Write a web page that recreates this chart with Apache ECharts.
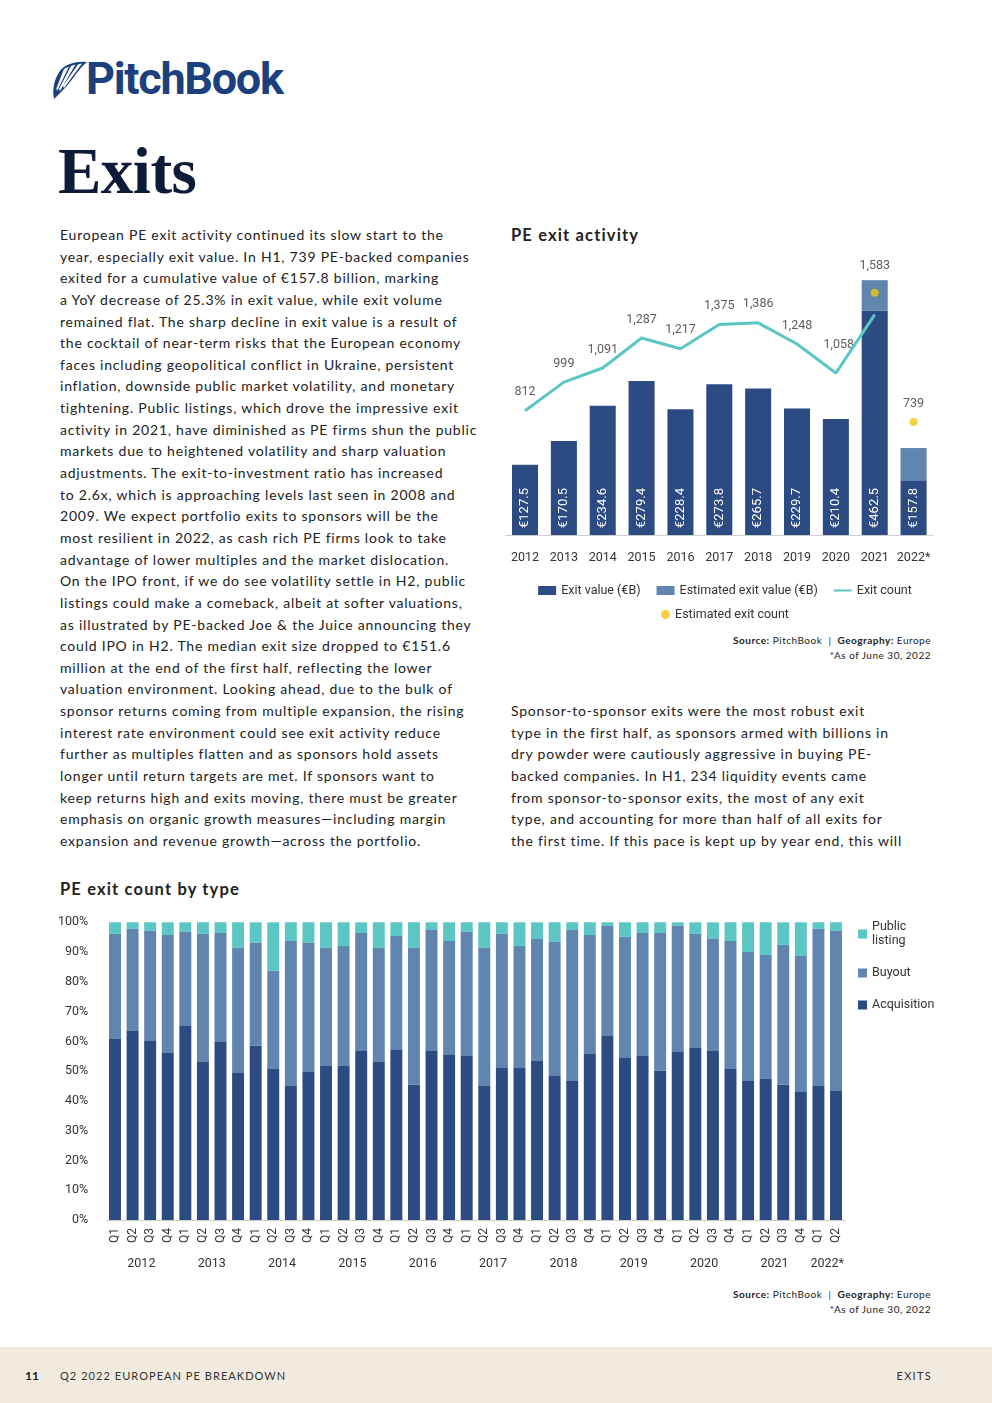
<!DOCTYPE html>
<html>
<head>
<meta charset="utf-8">
<script src="https://cdn.jsdelivr.net/npm/echarts@6/dist/echarts.min.js"></script>
<style>
  html, body { margin: 0; padding: 0; background: #fff; }
  body { width: 992px; height: 1403px; position: relative; overflow: hidden; font-family: Lato, "Open Sans", sans-serif; color: #222; }
  .abs { position: absolute; }
  .para { font-size: 14px; line-height: 21.64px; letter-spacing: 0.78px; white-space: nowrap; color: #222; }
  .ctitle { font-weight: 700; font-size: 16.5px; letter-spacing: 1.15px; color: #222; }
  .src { font-size: 10px; letter-spacing: 0.5px; text-align: right; line-height: 15px; color: #222; white-space: nowrap; }
  .src b { font-weight: 700; }
</style>
</head>
<body>
<!-- logo -->
<svg class="abs" style="left:50px;top:60px" width="40" height="42" viewBox="0 0 40 42">
  <path d="M4 39 C2 30 4 19 10 11 C16 4 26 1 37 2 C33 5 30 9 26 14 C21 21 15 29 4 39 Z" fill="#1c3f7d"/>
  <path d="M9 13 C12 8 15 6 18 5 L8 24 Z" fill="#1c3f7d"/>
  <path d="M14 9 L19 6.5 L7 31 L6.5 28 Z" fill="#ffffff"/>
  <path d="M21 6 L25.5 4.5 L10 31 L9 29 Z" fill="#ffffff"/>
  <path d="M28 4.5 L32 3.5 L14 28 L13 26 Z" fill="#ffffff"/>
</svg>
<div class="abs" style="left:86px;top:52px;font-family:Roboto,sans-serif;font-weight:700;font-size:45px;letter-spacing:-1.3px;color:#1c3f7d;">PitchBook</div>
<div class="abs" style="left:58px;top:134px;font-family:'Liberation Serif','DejaVu Serif',serif;font-weight:700;font-size:65px;color:#0e1b38;letter-spacing:-0.5px;">Exits</div>

<div class="abs para" style="left:60px;top:224px;">European PE exit activity continued its slow start to the<br>year, especially exit value. In H1, 739 PE-backed companies<br>exited for a cumulative value of €157.8 billion, marking<br>a YoY decrease of 25.3% in exit value, while exit volume<br>remained flat. The sharp decline in exit value is a result of<br>the cocktail of near-term risks that the European economy<br>faces including geopolitical conflict in Ukraine, persistent<br>inflation, downside public market volatility, and monetary<br>tightening. Public listings, which drove the impressive exit<br>activity in 2021, have diminished as PE firms shun the public<br>markets due to heightened volatility and sharp valuation<br>adjustments. The exit-to-investment ratio has increased<br>to 2.6x, which is approaching levels last seen in 2008 and<br>2009. We expect portfolio exits to sponsors will be the<br>most resilient in 2022, as cash rich PE firms look to take<br>advantage of lower multiples and the market dislocation.<br>On the IPO front, if we do see volatility settle in H2, public<br>listings could make a comeback, albeit at softer valuations,<br>as illustrated by PE-backed Joe &amp; the Juice announcing they<br>could IPO in H2. The median exit size dropped to €151.6<br>million at the end of the first half, reflecting the lower<br>valuation environment. Looking ahead, due to the bulk of<br>sponsor returns coming from multiple expansion, the rising<br>interest rate environment could see exit activity reduce<br>further as multiples flatten and as sponsors hold assets<br>longer until return targets are met. If sponsors want to<br>keep returns high and exits moving, there must be greater<br>emphasis on organic growth measures—including margin<br>expansion and revenue growth—across the portfolio.</div>

<div class="abs para" style="left:511px;top:700px;">Sponsor-to-sponsor exits were the most robust exit<br>type in the first half, as sponsors armed with billions in<br>dry powder were cautiously aggressive in buying PE-<br>backed companies. In H1, 234 liquidity events came<br>from sponsor-to-sponsor exits, the most of any exit<br>type, and accounting for more than half of all exits for<br>the first time. If this pace is kept up by year end, this will</div>

<div class="abs ctitle" style="left:511px;top:225px;">PE exit activity</div>
<div class="abs ctitle" style="left:60px;top:879px;">PE exit count by type</div>

<div id="c1" class="abs" style="left:500px;top:250px;width:450px;height:380px;"></div>
<div id="c2" class="abs" style="left:40px;top:900px;width:910px;height:380px;"></div>

<div class="abs src" style="right:61px;top:633px;"><b>Source:</b> PitchBook &nbsp;|&nbsp; <b>Geography:</b> Europe<br>*As of June 30, 2022</div>
<div class="abs src" style="right:61px;top:1287px;"><b>Source:</b> PitchBook &nbsp;|&nbsp; <b>Geography:</b> Europe<br>*As of June 30, 2022</div>

<div class="abs" style="left:0;top:1347px;width:992px;height:56px;background:#f1eadf;"></div>
<div class="abs" style="left:25px;top:1368px;font-size:12px;font-weight:700;color:#222;">11</div>
<div class="abs" style="left:60px;top:1369px;font-size:11px;letter-spacing:1.05px;color:#333;">Q2 2022 EUROPEAN PE BREAKDOWN</div>
<div class="abs" style="right:60px;top:1369px;font-size:11px;letter-spacing:1.3px;color:#333;">EXITS</div>

<script>
// ---------- Data: PE exit activity ----------
const years = ['2012','2013','2014','2015','2016','2017','2018','2019','2020','2021','2022*'];
const exitValue = [127.5, 170.5, 234.6, 279.4, 228.4, 273.8, 265.7, 229.7, 210.4, 407.0, 98.0];
const estimatedExitValue = [null, null, null, null, null, null, null, null, null, 55.5, 59.8];
const exitCount = [812, 999, 1091, 1287, 1217, 1375, 1386, 1248, 1058, 1440, null];
const estimatedExitCount = [null, null, null, null, null, null, null, null, null, 1583, 739];
const exitCountLabelled = [true, true, true, true, true, true, true, true, true, false, false];

// ---------- Data: PE exit count by type (% share) ----------
const quarters = ['Q1','Q2','Q3','Q4','Q1','Q2','Q3','Q4','Q1','Q2','Q3','Q4','Q1','Q2','Q3','Q4',
  'Q1','Q2','Q3','Q4','Q1','Q2','Q3','Q4','Q1','Q2','Q3','Q4','Q1','Q2','Q3','Q4',
  'Q1','Q2','Q3','Q4','Q1','Q2','Q3','Q4','Q1','Q2'];
const yearLabels = ['2012','2013','2014','2015','2016','2017','2018','2019','2020','2021','2022*'];
const acquisition = [60.8,63.5,60.1,56.1,65.2,53.1,59.8,49.4,58.5,50.7,45.0,49.7,51.7,51.7,56.8,53.1,
  57.1,45.4,56.8,55.4,55.1,45.0,51.1,51.1,53.4,48.4,46.7,55.8,61.8,54.4,55.1,50.1,
  56.4,57.8,56.8,50.7,46.7,47.4,45.4,43.0,45.0,43.3];
const buyout = [35.3,34.3,37.0,39.6,31.6,43.0,36.6,42.0,34.6,33.0,48.7,43.4,39.7,40.3,39.6,38.3,
  38.3,46.0,40.6,38.3,41.7,46.4,45.0,40.9,41.0,45.0,50.7,39.9,37.0,40.7,41.3,46.3,
  42.4,38.3,37.6,43.0,43.3,41.6,47.0,45.7,52.8,53.8];
const publicListing = [3.9,2.2,2.9,4.3,3.2,3.9,3.6,8.6,6.9,16.3,6.3,6.9,8.6,8.0,3.6,8.6,
  4.6,8.6,2.6,6.3,3.2,8.6,3.9,8.0,5.6,6.6,2.6,4.3,1.2,4.9,3.6,3.6,
  1.2,3.9,5.6,6.3,10.0,11.0,7.6,11.3,2.2,2.9];

const C_DARK = '#2c4b83', C_LIGHT = '#6085ae', C_TEAL = '#5cc6c5', C_YELLOW = '#f2c40f';
const FONT = "Roboto, 'DejaVu Sans', sans-serif";
const fmt = v => Math.round(v).toLocaleString('en-US');
const LINE_ICON = 'path://M0,0 L0.001,0 Z M0,3.4 L20,3.4 L20,5.8 L0,5.8 Z M0,9.2 L0.001,9.2 Z';

// ---------- Chart 1 ----------
const c1 = echarts.init(document.getElementById('c1'), null, {renderer: 'canvas'});
const totals = exitValue.map((v, i) => v + (estimatedExitValue[i] || 0));
c1.setOption({
  animation: false,
  textStyle: {fontFamily: FONT},
  grid: {left: 5.6, right: 17, top: 9.5, height: 275.5},
  legend: [{
    top: 334, left: 'center', padding: 0,
    itemWidth: 18, itemHeight: 9, itemGap: 16,
    textStyle: {fontFamily: FONT, fontSize: 12.5, color: '#333'},
    data: [
      {name: 'Exit value (€B)', icon: 'rect'},
      {name: 'Estimated exit value (€B)', icon: 'rect'},
      {name: 'Exit count', icon: LINE_ICON}
    ]
  }, {
    top: 358, left: 'center', padding: 0,
    itemWidth: 9, itemHeight: 9,
    textStyle: {fontFamily: FONT, fontSize: 12.5, color: '#333'},
    data: [{name: 'Estimated exit count', icon: 'circle'}]
  }],
  xAxis: {
    type: 'category', data: years,
    axisLine: {lineStyle: {color: '#cfcfcf'}},
    axisTick: {show: false},
    axisLabel: {interval: 0, margin: 16, fontSize: 12.5, color: '#333', fontFamily: FONT}
  },
  yAxis: [
    {type: 'value', min: 0, max: 500, show: false, splitLine: {show: false}},
    {type: 'value', min: 0, max: 1800, show: false, splitLine: {show: false}}
  ],
  series: [
    {
      name: 'Exit value (€B)', type: 'bar', stack: 'v', barWidth: '67%',
      itemStyle: {color: C_DARK},
      data: exitValue,
      label: {
        show: true, position: 'insideBottom', rotate: 90, align: 'left', verticalAlign: 'middle',
        distance: 7, color: '#fff', fontSize: 13, fontFamily: FONT,
        formatter: p => '€' + totals[p.dataIndex].toFixed(1)
      }
    },
    {
      name: 'Estimated exit value (€B)', type: 'bar', stack: 'v', barWidth: '67%',
      itemStyle: {color: C_LIGHT},
      data: estimatedExitValue
    },
    {
      name: 'Exit count', type: 'line', yAxisIndex: 1,
      symbol: 'none',
      lineStyle: {color: C_TEAL, width: 3}, itemStyle: {color: C_TEAL},
      data: exitCount
    },
    {
      name: 'Exit count labels', type: 'scatter', yAxisIndex: 1,
      symbolSize: 0, silent: true, itemStyle: {color: 'rgba(0,0,0,0)'},
      data: exitCount.map((v, i) => ({
        value: exitCountLabelled[i] ? v : null,
        label: {
          show: exitCountLabelled[i], position: 'top', distance: 12,
          offset: i === 8 ? [3, -10] : [0, 0],
          color: '#333', fontSize: 12.5, fontFamily: FONT,
          formatter: p => fmt(p.value)
        }
      }))
    },
    {
      name: 'Estimated exit count', type: 'scatter', yAxisIndex: 1,
      symbol: 'circle', symbolSize: 8, itemStyle: {color: C_YELLOW},
      data: estimatedExitCount.map((v, i) => ({
        value: v,
        label: {
          show: v != null, position: 'top', distance: i === 9 ? 16 : 8,
          color: '#333', fontSize: 12.5, fontFamily: FONT,
          formatter: p => fmt(p.value)
        }
      }))
    }
  ]
});

// ---------- Chart 2 ----------
const c2 = echarts.init(document.getElementById('c2'), null, {renderer: 'canvas'});
c2.setOption({
  animation: false,
  textStyle: {fontFamily: FONT},
  grid: {left: 66.2, right: 105.2, top: 22.3, height: 297.7},
  legend: {
    orient: 'vertical', left: 818, top: 20, padding: 0,
    itemWidth: 9, itemHeight: 9, itemGap: 18,
    textStyle: {fontFamily: FONT, fontSize: 12.5, color: '#333', lineHeight: 14},
    data: [
      {name: 'Public listing', icon: 'rect'},
      {name: 'Buyout', icon: 'rect'},
      {name: 'Acquisition', icon: 'rect'}
    ],
    formatter: n => n === 'Public listing' ? 'Public\nlisting' : n
  },
  xAxis: [{
    type: 'category', data: quarters,
    axisLine: {lineStyle: {color: '#d0ccc4'}},
    axisTick: {show: false},
    axisLabel: {interval: 0, rotate: 90, margin: 8, fontSize: 12, color: '#333', fontFamily: FONT}
  }, {
    type: 'value', min: 0, max: 42, interval: 1, position: 'bottom',
    axisLine: {show: false}, axisTick: {show: false}, splitLine: {show: false},
    axisLabel: {
      margin: 37, fontSize: 12.5, color: '#333', fontFamily: FONT, showMinLabel: true, showMaxLabel: true,
      formatter: v => {
        if (v === 41) return yearLabels[10];
        if (v % 4 === 2 && v < 40) return yearLabels[(v - 2) / 4];
        return '';
      }
    }
  }],
  yAxis: {
    type: 'value', min: 0, max: 100, interval: 10,
    axisLine: {show: false}, axisTick: {show: false}, splitLine: {show: false},
    axisLabel: {margin: 18, fontSize: 12.5, color: '#333', fontFamily: FONT, formatter: '{value}%'}
  },
  series: [
    {name: 'Acquisition', type: 'bar', stack: 't', barWidth: '68%', itemStyle: {color: C_DARK}, data: acquisition},
    {name: 'Buyout', type: 'bar', stack: 't', barWidth: '68%', itemStyle: {color: C_LIGHT}, data: buyout},
    {name: 'Public listing', type: 'bar', stack: 't', barWidth: '68%', itemStyle: {color: C_TEAL}, data: publicListing}
  ]
});
</script>
</body>
</html>
